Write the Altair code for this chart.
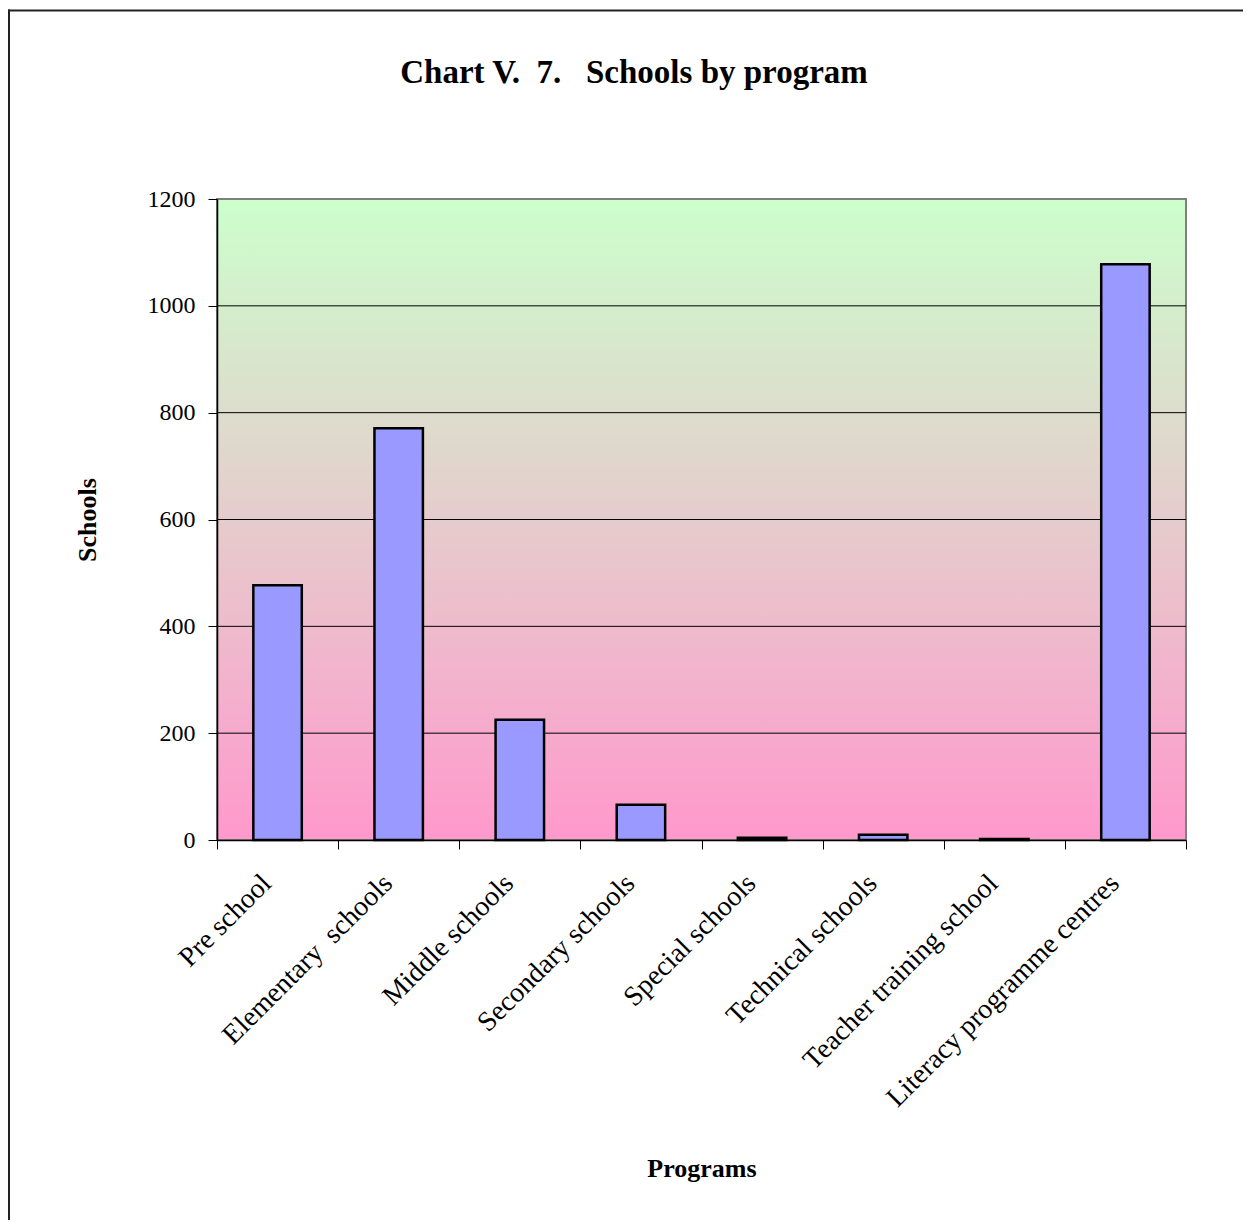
import altair as alt
import pandas as pd

programs = [
    "Pre school",
    "Elementary\u00a0 schools",
    "Middle schools",
    "Secondary schools",
    "Special schools",
    "Technical schools",
    "Teacher training school",
    "Literacy programme centres",
]
schools = [477, 771, 225, 66, 4, 10, 2, 1078]
y_ticks = [0, 200, 400, 600, 800, 1000, 1200]
grid_vals = [200, 400, 600, 800, 1000]
title_text = "Chart V.\u00a0 7.\u00a0\u00a0 Schools by program"

W, H = 969, 641
FONT = "Liberation Serif"

df = pd.DataFrame({"program": programs, "schools": schools})
grid_df = pd.DataFrame({"v": grid_vals})

xscale = alt.Scale(paddingInner=0, paddingOuter=0)
yscale = alt.Scale(domain=[0, 1200], nice=False)

bg = alt.Chart(pd.DataFrame({"a": [0]})).mark_rect(
    fill=alt.Gradient(
        gradient="linear",
        stops=[alt.GradientStop(color="#CCFFCC", offset=0),
               alt.GradientStop(color="#FF99CC", offset=1)],
        x1=0, x2=0, y1=0, y2=1,
    ),
    stroke="#808080",
    strokeWidth=2,
).encode(
    x=alt.value(0), x2=alt.value(W), y=alt.value(0), y2=alt.value(H)
)

grid = alt.Chart(grid_df).mark_rule(color="black", strokeWidth=1).encode(
    y=alt.Y("v:Q", scale=yscale)
)

bars = alt.Chart(df).mark_bar(
    width={"band": 0.4}, color="#9999FF", stroke="black", strokeWidth=2.5
).encode(
    x=alt.X(
        "program:N",
        sort=None,
        scale=xscale,
        axis=alt.Axis(
            title="Programs",
            titleFont=FONT,
            titleFontSize=26,
            titleFontWeight="bold",
            titleColor="black",
            titleBaseline="alphabetic",
            titleY=336,
            labelAngle=-45,
            labelAlign="right",
            labelBaseline="middle",
            labelFont=FONT,
            labelFontSize=28,
            labelColor="black",
            labelPadding=30,
            labelOffset=-11,
            labelLimit=0,
            tickBand="extent",
            tickSize=9,
            tickColor="black",
            domainColor="black",
            domainWidth=1.5,
            grid=False,
            zindex=1,
        ),
    ),
    y=alt.Y(
        "schools:Q",
        scale=yscale,
        axis=alt.Axis(
            values=y_ticks,
            format="d",
            title="Schools",
            titleFont=FONT,
            titleFontSize=26,
            titleFontWeight="bold",
            titleColor="black",
            titlePadding=47,
            labelFont=FONT,
            labelFontSize=24,
            labelColor="black",
            labelPadding=13,
            tickSize=9,
            tickColor="black",
            domainColor="black",
            domainWidth=1.5,
            grid=False,
            zindex=1,
        ),
    ),
)

title = alt.Chart(pd.DataFrame({"t": [title_text]})).mark_text(
    font=FONT, fontSize=33, fontWeight="bold", color="black",
    align="center", baseline="alphabetic",
).encode(text="t:N", x=alt.value(417), y=alt.value(-116))

# outer chart-area frame (only top and left edges fall inside the window)
frame_top = alt.Chart(pd.DataFrame({"a": [0]})).mark_rule(
    color="#222222", strokeWidth=2
).encode(x=alt.value(-209), x2=alt.value(1100), y=alt.value(-188.5))
frame_left = alt.Chart(pd.DataFrame({"a": [0]})).mark_rule(
    color="#222222", strokeWidth=2
).encode(x=alt.value(-208), y=alt.value(-189.5), y2=alt.value(1100))

chart = alt.layer(bg, grid, bars, title, frame_top, frame_left).properties(
    width=W,
    height=H,
    autosize="none",
    padding={"left": 209, "top": 191, "right": 57, "bottom": 380},
).configure_view(stroke=None)

chart.save("out.html", embed_options={"renderer": "svg", "actions": False})
